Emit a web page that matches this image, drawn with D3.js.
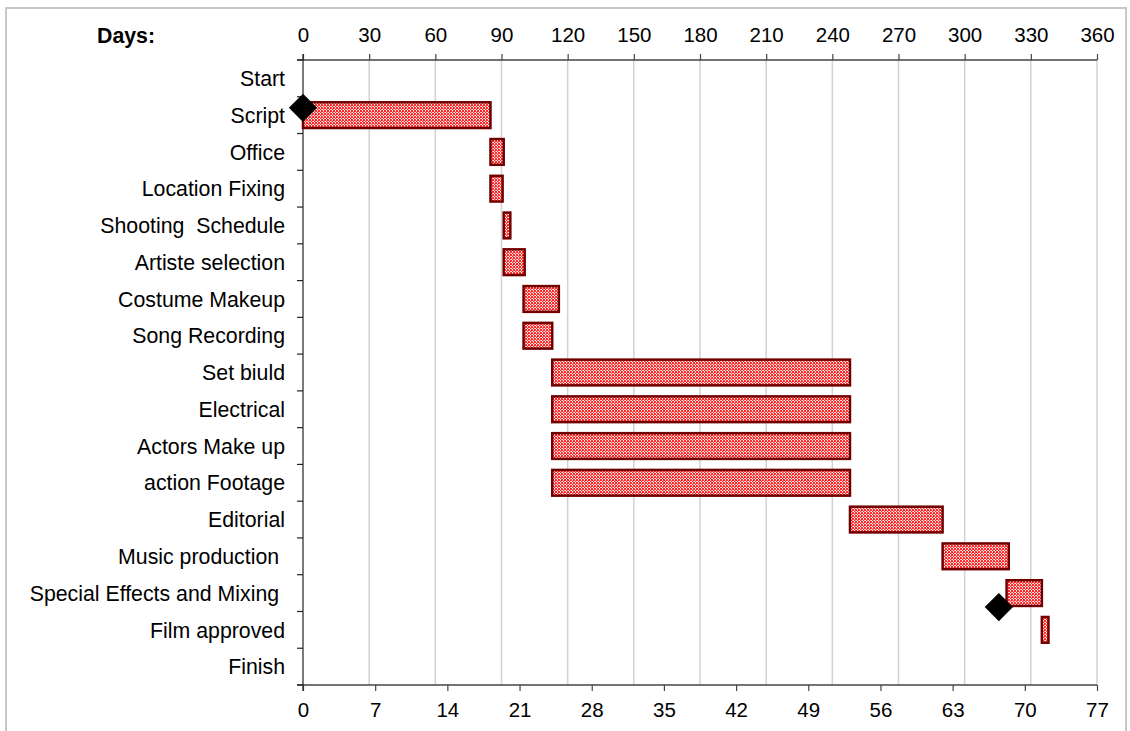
<!DOCTYPE html>
<html>
<head>
<meta charset="utf-8">
<script src="https://cdn.jsdelivr.net/npm/d3@7"></script>
<style>
  html, body { margin: 0; padding: 0; background: #fff; }
  svg { display: block; font-family: "Liberation Sans", Arial, sans-serif; }
</style>
</head>
<body>
<svg id="chart" width="1130" height="731"></svg>
<script>
// Production schedule: tasks, start day and duration (days)
const tasks = ["Start", "Script", "Office", "Location Fixing", "Shooting  Schedule",
  "Artiste selection", "Costume Makeup", "Song Recording", "Set biuld", "Electrical",
  "Actors Make up", "action Footage", "Editorial", "Music production ",
  "Special Effects and Mixing ", "Film approved", "Finish"];
const startDays = [null, 0, 85, 85, 91, 91, 100, 100, 113, 113, 113, 113, 248, 290, 319, 335, null];
const durations = [null, 85, 6, 5.5, 3, 9.5, 16, 13, 135, 135, 135, 135, 42, 30, 16, 3, null];

// Milestone markers: day and position along the task rows
const milestoneDays = [0, 315.5];
const milestoneRows = [1.3, 14.88];

// Axis ticks: days on top, weeks at the bottom
const dayTicks = [0, 30, 60, 90, 120, 150, 180, 210, 240, 270, 300, 330, 360];
const weekTicks = [0, 7, 14, 21, 28, 35, 42, 49, 56, 63, 70, 77];

const svg = d3.select("#chart");
const plotLeft = 303, plotRight = 1097, plotTop = 60, plotBottom = 685;

const x = d3.scaleLinear().domain([0, 360]).range([plotLeft, plotRight]);
const xw = d3.scaleLinear().domain([0, 77]).range([plotLeft, plotRight]);
const y = d3.scaleBand().domain(tasks).range([plotTop, plotBottom]).padding(0);
const yRow = d3.scaleLinear().domain([0, tasks.length]).range([plotTop, plotBottom]);

// outer frame
svg.append("rect")
  .attr("x", 6).attr("y", 8).attr("width", 1120).attr("height", 760)
  .attr("fill", "none").attr("stroke", "#c8c8c8").attr("stroke-width", 2);

// dotted red fill
const defs = svg.append("defs");
const pat = defs.append("pattern").attr("id", "dots")
  .attr("patternUnits", "userSpaceOnUse").attr("width", 3).attr("height", 3);
pat.append("rect").attr("width", 3).attr("height", 3).attr("fill", "#ff2a2a");
[[1, 1, "#ffffff"], [2, 2, "#ffffff"], [0, 1, "#ffa0a0"], [2, 0, "#ffa0a0"]].forEach(([px, py, c]) =>
  pat.append("rect").attr("x", px).attr("y", py).attr("width", 1).attr("height", 1).attr("fill", c));

// vertical gridlines at day ticks
svg.append("g").selectAll("line")
  .data(dayTicks.filter(d => d > 0))
  .join("line")
  .attr("x1", d => x(d)).attr("x2", d => x(d))
  .attr("y1", plotTop).attr("y2", plotBottom)
  .attr("stroke", "#d2d2d2").attr("stroke-width", 1.5);

// top axis (days)
const topAxis = svg.append("g")
  .attr("transform", `translate(0,${plotTop})`)
  .call(d3.axisTop(x).tickValues(dayTicks).tickSize(6).tickPadding(12).tickSizeOuter(0));
// bottom axis (weeks)
const botAxis = svg.append("g")
  .attr("transform", `translate(0,${plotBottom})`)
  .call(d3.axisBottom(xw).tickValues(weekTicks).tickSize(6).tickPadding(11).tickSizeOuter(0));

[topAxis, botAxis].forEach(g => {
  g.select(".domain").attr("d", `M${plotLeft - 6},0H${plotRight}`).attr("stroke", "#444").attr("stroke-width", 1.5);
  g.selectAll(".tick line").attr("stroke", "#444").attr("stroke-width", 1.2);
  g.selectAll(".tick text").attr("fill", "#000").style("font-size", "20.5px")
    .style("font-family", "Liberation Sans, Arial, sans-serif");
});

// left axis: tick marks at row boundaries
svg.append("line")
  .attr("x1", plotLeft).attr("x2", plotLeft).attr("y1", plotTop - 6).attr("y2", plotBottom + 6)
  .attr("stroke", "#222").attr("stroke-width", 1.2);
svg.append("g").selectAll("line")
  .data(d3.range(tasks.length + 1))
  .join("line")
  .attr("x1", plotLeft - 6).attr("x2", plotLeft)
  .attr("y1", i => yRow(i)).attr("y2", i => yRow(i))
  .attr("stroke", "#222").attr("stroke-width", 1.2);

// task labels
svg.append("g").selectAll("text")
  .data(tasks)
  .join("text")
  .attr("x", 285)
  .attr("y", d => y(d) + y.bandwidth() / 2)
  .attr("dy", "0.36em")
  .attr("text-anchor", "end")
  .style("white-space", "pre")
  .style("font-size", "21.3px")
  .attr("fill", "#000")
  .text(d => d);

// "Days:" heading
svg.append("text")
  .attr("x", 97).attr("y", 43)
  .style("font-size", "21.3px").style("font-weight", "bold")
  .text("Days:");

// task bars
const barH = y.bandwidth() * 0.7;
svg.append("g").selectAll("rect")
  .data(tasks.map((t, i) => ({ t, s: startDays[i], d: durations[i] })).filter(d => d.s !== null))
  .join("rect")
  .attr("x", d => x(d.s))
  .attr("y", d => y(d.t) + (y.bandwidth() - barH) / 2)
  .attr("width", d => x(d.s + d.d) - x(d.s))
  .attr("height", barH)
  .attr("fill", "url(#dots)")
  .attr("stroke", "#700000")
  .attr("stroke-width", 2.5);

// milestone diamonds
const diamond = d3.symbol().type(d3.symbolSquare).size(400);
svg.append("g").selectAll("path")
  .data(milestoneDays.map((d, i) => ({ d, r: milestoneRows[i] })))
  .join("path")
  .attr("d", diamond)
  .attr("transform", m => `translate(${x(m.d)},${yRow(m.r)}) rotate(45)`)
  .attr("fill", "#000");
</script>
</body>
</html>
